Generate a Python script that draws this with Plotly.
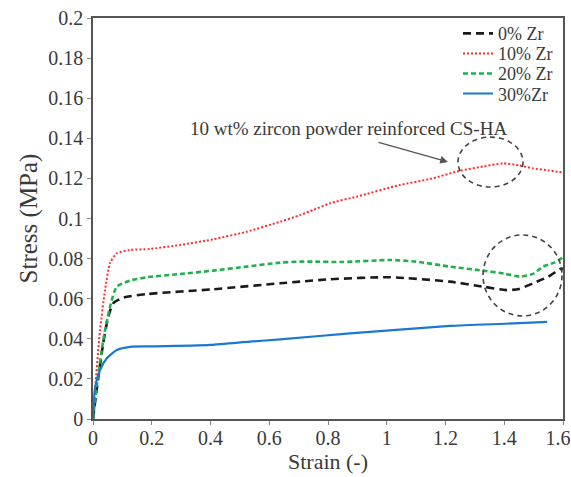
import plotly.graph_objects as go

# ---- data ----
strain_0 = [0, 0.0125, 0.035, 0.052, 0.069, 0.103, 0.183, 0.409, 0.637, 0.705, 0.807,
            1.011, 1.215, 1.328, 1.407, 1.45, 1.498, 1.55, 1.589, 1.6]
stress_0 = [0, 0.0145, 0.038, 0.051, 0.0577, 0.0605, 0.0623, 0.0647, 0.0677, 0.0685, 0.0697,
            0.0707, 0.0685, 0.066, 0.0643, 0.0648, 0.0677, 0.071, 0.0747, 0.075]

strain_10 = [0, 0.007, 0.024, 0.041, 0.058, 0.081, 0.126, 0.194, 0.296, 0.409, 0.523, 0.637,
             0.705, 0.749, 0.807, 0.9, 1.045, 1.15, 1.249, 1.33, 1.396, 1.45, 1.498, 1.55, 1.6]
stress_10 = [0, 0.0145, 0.0444, 0.0643, 0.0778, 0.0826, 0.0843, 0.0848, 0.0868, 0.0896, 0.0934,
             0.0984, 0.1017, 0.1042, 0.1076, 0.111, 0.1167, 0.1198, 0.1238, 0.126, 0.1275,
             0.1265, 0.125, 0.124, 0.1229]

strain_20 = [0, 0.0125, 0.035, 0.058, 0.081, 0.126, 0.183, 0.296, 0.409, 0.523, 0.637, 0.705,
             0.749, 0.85, 1.011, 1.1, 1.215, 1.328, 1.4, 1.454, 1.5, 1.532, 1.57, 1.6]
stress_20 = [0, 0.0161, 0.0394, 0.056, 0.066, 0.069, 0.0707, 0.0723, 0.074, 0.076, 0.078, 0.0785,
             0.0785, 0.0783, 0.0793, 0.0785, 0.076, 0.074, 0.0725, 0.071, 0.0725, 0.076, 0.078, 0.0806]

strain_30 = [0, 0.0075, 0.024, 0.047, 0.081, 0.126, 0.2, 0.4, 0.534, 0.637, 0.875, 1.215, 1.4, 1.546]
stress_30 = [0, 0.016, 0.0244, 0.0303, 0.0344, 0.036, 0.0362, 0.037, 0.0386, 0.0397, 0.0427,
             0.0464, 0.0475, 0.0484]

series_names = ["0% Zr", "10% Zr", "20% Zr", "30%Zr"]

x_ticks = [0, 0.2, 0.4, 0.6, 0.8, 1.0, 1.2, 1.4, 1.6]
x_ticktext = ["0", "0.2", "0.4", "0.6", "0.8", "1", "1.2", "1.4", "1.6\u00a0\u00a0"]
y_ticks = [0, 0.02, 0.04, 0.06, 0.08, 0.1, 0.12, 0.14, 0.16, 0.18, 0.2]
y_ticktext = ["0", "0.02", "0.04", "0.06", "0.08", "0.1", "0.12", "0.14", "0.16", "0.18", "0.2"]

annotation_text = "10 wt% zircon powder reinforced CS-HA"

# ---- figure ----
FONT = "Liberation Serif, Times New Roman, serif"
TXT = "#3a3a3a"

fig = go.Figure()
fig.add_trace(go.Scatter(x=strain_0, y=stress_0, name=series_names[0], mode="lines",
                         legend="legend",
                         line=dict(color="#1a1a1a", width=2.6, dash="8px,5px",
                                   shape="spline", smoothing=0.6)))
fig.add_trace(go.Scatter(x=strain_10, y=stress_10, name=series_names[1], mode="lines",
                         legend="legend2",
                         line=dict(color="#ff2a2a", width=2, dash="2px,2px",
                                   shape="spline", smoothing=0.6)))
fig.add_trace(go.Scatter(x=strain_20, y=stress_20, name=series_names[2], mode="lines",
                         legend="legend3",
                         line=dict(color="#1fb24a", width=2.6, dash="5px,3px",
                                   shape="spline", smoothing=0.6)))
fig.add_trace(go.Scatter(x=strain_30, y=stress_30, name=series_names[3], mode="lines",
                         legend="legend4",
                         line=dict(color="#1a78d0", width=2.2,
                                   shape="spline", smoothing=0.6)))

# dashed circles
fig.add_shape(type="circle", xref="x", yref="y", x0=1.2426, x1=1.4638, y0=0.1157, y1=0.1406,
              line=dict(color="#444444", width=1.6, dash="5px,4px"))
fig.add_shape(type="circle", xref="x", yref="y", x0=1.3277, x1=1.5966, y0=0.0514, y1=0.0918,
              line=dict(color="#444444", width=1.6, dash="5px,4px"))

# text annotation
fig.add_annotation(x=0.871, y=0.1451, xref="x", yref="y", text=annotation_text,
                   showarrow=False, font=dict(family=FONT, size=19, color=TXT))
# arrow
fig.add_annotation(x=1.2085, y=0.1282, ax=0.967, ay=0.1382, xref="x", yref="y",
                   axref="x", ayref="y", text="", showarrow=True, arrowhead=2,
                   arrowsize=1.2, arrowwidth=1.3, arrowcolor="#555555")

legend_common = dict(x=0.7766, xanchor="left", yanchor="middle",
                     bgcolor="rgba(0,0,0,0)", font=dict(family=FONT, size=18, color=TXT),
                     itemwidth=30)

fig.update_layout(
    width=571, height=477,
    margin=dict(l=93, r=8, t=18, b=58),
    paper_bgcolor="white", plot_bgcolor="white",
    font=dict(family=FONT, color=TXT),
    showlegend=True,
    legend=dict(y=0.961, **legend_common),
    legend2=dict(y=0.911, **legend_common),
    legend3=dict(y=0.861, **legend_common),
    legend4=dict(y=0.811, **legend_common),
    xaxis=dict(range=[0, 1.6], tickvals=x_ticks, ticktext=x_ticktext, automargin=False,
               showline=True, linecolor="#555555", linewidth=1.5, mirror=True,
               ticks="outside", ticklen=4, tickcolor="#888888", showgrid=False, zeroline=False,
               ticklabeloverflow="allow", ticklabelstandoff=-4,
               tickfont=dict(family=FONT, size=20, color=TXT),
               title=dict(text="Strain (-)", font=dict(family=FONT, size=22, color=TXT), standoff=3)),
    yaxis=dict(range=[0, 0.2], tickvals=y_ticks, ticktext=y_ticktext, automargin=False,
               showline=True, linecolor="#555555", linewidth=1.5, mirror=True,
               ticks="outside", ticklen=4, tickcolor="#888888", showgrid=False, zeroline=False,
               tickfont=dict(family=FONT, size=20, color=TXT),
               title=dict(text="Stress (MPa)", font=dict(family=FONT, size=25, color=TXT), standoff=4)),
)

fig.write_html("out.html", config={"displayModeBar": False},
               post_script="document.body.style.margin='0';document.body.style.padding='0';")
